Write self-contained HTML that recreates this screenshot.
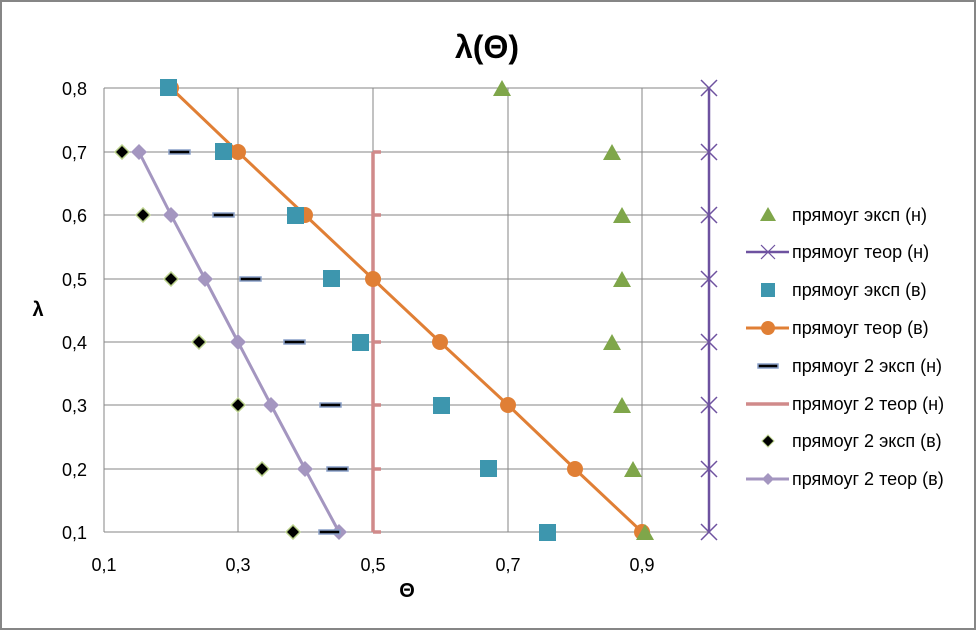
<!DOCTYPE html>
<html><head><meta charset="utf-8"><style>
html,body{margin:0;padding:0;background:#fff}
svg{display:block}
text{font-family:"Liberation Sans","DejaVu Sans",sans-serif}
</style></head><body>
<svg width="976" height="630" viewBox="0 0 976 630" xmlns="http://www.w3.org/2000/svg">
<rect x="1" y="1" width="974" height="628" fill="#fff" stroke="#868686" stroke-width="2"/>
<text x="487" y="58" font-size="32" font-weight="bold" text-anchor="middle">λ(Θ)</text>
<g stroke="#868686" stroke-width="1">
<line x1="104" y1="88" x2="709" y2="88"/><line x1="104" y1="152" x2="709" y2="152"/>
<line x1="104" y1="215" x2="709" y2="215"/><line x1="104" y1="279" x2="709" y2="279"/>
<line x1="104" y1="342" x2="709" y2="342"/><line x1="104" y1="405" x2="709" y2="405"/>
<line x1="104" y1="469" x2="709" y2="469"/><line x1="104" y1="532" x2="709" y2="532"/>
<line x1="104" y1="88" x2="104" y2="532"/><line x1="238" y1="88" x2="238" y2="532"/>
<line x1="373" y1="88" x2="373" y2="532"/><line x1="508" y1="88" x2="508" y2="532"/>
<line x1="642" y1="88" x2="642" y2="532"/>
</g>
<g font-size="18" text-anchor="end">
<text x="87" y="95">0,8</text><text x="87" y="159">0,7</text><text x="87" y="222">0,6</text>
<text x="87" y="286">0,5</text><text x="87" y="349">0,4</text><text x="87" y="412">0,3</text>
<text x="87" y="476">0,2</text><text x="87" y="539">0,1</text>
</g>
<g font-size="18" text-anchor="middle">
<text x="104" y="571">0,1</text><text x="238" y="571">0,3</text><text x="373" y="571">0,5</text>
<text x="508" y="571">0,7</text><text x="642" y="571">0,9</text>
</g>
<text x="407" y="597" font-size="20" font-weight="bold" text-anchor="middle">Θ</text>
<text x="38" y="316" font-size="20" font-weight="bold" text-anchor="middle">λ</text>

<g stroke="#d08a8a" stroke-width="3.5">
<line x1="373" y1="152" x2="373" y2="532"/>
<line x1="373" y1="152" x2="381" y2="152"/><line x1="373" y1="215" x2="381" y2="215"/>
<line x1="373" y1="279" x2="381" y2="279"/><line x1="373" y1="342" x2="381" y2="342"/>
<line x1="373" y1="405" x2="381" y2="405"/><line x1="373" y1="469" x2="381" y2="469"/>
<line x1="373" y1="532" x2="381" y2="532"/>
</g>
<g stroke="#6e52a0" stroke-width="2.5">
<line x1="709" y1="88" x2="709" y2="532"/>
</g>
<g stroke="#6e52a0" stroke-width="1.5">
<path d="M701 80l16 16M717 80l-16 16M701 144l16 16M717 144l-16 16M701 207l16 16M717 207l-16 16M701 271l16 16M717 271l-16 16M701 334l16 16M717 334l-16 16M701 397l16 16M717 397l-16 16M701 461l16 16M717 461l-16 16M701 524l16 16M717 524l-16 16"/>
</g>
<polyline fill="none" stroke="#e07f35" stroke-width="3" points="171,88 238,152 305,215 373,279 440,342 508,405 575,469 642,532"/>
<g fill="#e07f35">
<circle cx="171" cy="88" r="8"/><circle cx="238" cy="152" r="8"/><circle cx="305" cy="215" r="8"/>
<circle cx="373" cy="279" r="8"/><circle cx="440" cy="342" r="8"/><circle cx="508" cy="405" r="8"/>
<circle cx="575" cy="469" r="8"/><circle cx="642" cy="532" r="8"/>
</g>
<polyline fill="none" stroke="#a496c0" stroke-width="3" points="139,152 171,215 205,279 238,342 271,405 305,469 339,532"/>
<g fill="#a496c0">
<path d="M139 144l8 8-8 8-8-8zM171 207l8 8-8 8-8-8zM205 271l8 8-8 8-8-8zM238 334l8 8-8 8-8-8zM271 397l8 8-8 8-8-8zM305 461l8 8-8 8-8-8zM339 524l8 8-8 8-8-8z"/>
</g>
<g fill="#3d96ae">
<rect x="160" y="79" width="17" height="17"/><rect x="215" y="143" width="17" height="17"/>
<rect x="287" y="207" width="17" height="17"/><rect x="323" y="270" width="17" height="17"/>
<rect x="352" y="334" width="17" height="17"/><rect x="433" y="397" width="17" height="17"/>
<rect x="480" y="460" width="17" height="17"/><rect x="539" y="524" width="17" height="17"/>
</g>
<g fill="#000" stroke="#8aa0c8" stroke-width="1.5">
<rect x="169" y="150" width="21" height="4"/><rect x="213" y="213" width="21" height="4"/>
<rect x="240" y="277" width="21" height="4"/><rect x="284" y="340" width="21" height="4"/>
<rect x="320" y="403" width="21" height="4"/><rect x="327" y="467" width="21" height="4"/>
<rect x="319" y="530" width="21" height="4"/>
</g>
<g fill="#000" stroke="#b9d08a" stroke-width="1.5">
<path d="M122 145l7 7-7 7-7-7zM143 208l7 7-7 7-7-7zM171 272l7 7-7 7-7-7zM199 335l7 7-7 7-7-7zM238 398l7 7-7 7-7-7zM262 462l7 7-7 7-7-7zM293 525l7 7-7 7-7-7z"/>
</g>
<g fill="#7fa64a">
<path d="M502 80l9 16h-18zM612 144l9 16h-18zM622 207l9 16h-18zM622 271l9 16h-18zM612 334l9 16h-18zM622 397l9 16h-18zM633 461l9 16h-18zM645 524l9 16h-18z"/>
</g>
<g font-size="18">
<path d="M768 207l8 14h-16z" fill="#7fa64a"/>
<text x="792" y="221">прямоуг эксп (н)</text>
<line x1="746" y1="252" x2="789" y2="252" stroke="#6e52a0" stroke-width="2.5"/>
<path d="M761 245l14 14M775 245l-14 14" stroke="#6e52a0" stroke-width="1.2"/>
<text x="792" y="258">прямоуг теор (н)</text>
<rect x="761" y="283" width="14" height="14" fill="#3d96ae"/>
<text x="792" y="296">прямоуг эксп (в)</text>
<line x1="746" y1="328" x2="789" y2="328" stroke="#e07f35" stroke-width="3"/>
<circle cx="768" cy="328" r="7" fill="#e07f35"/>
<text x="792" y="334">прямоуг теор (в)</text>
<rect x="758" y="364" width="20" height="4" fill="#000" stroke="#8aa0c8" stroke-width="1.5"/>
<text x="792" y="372">прямоуг 2 эксп (н)</text>
<line x1="746" y1="404" x2="789" y2="404" stroke="#d08a8a" stroke-width="3.5"/>
<text x="792" y="410">прямоуг 2 теор (н)</text>
<path d="M768 435l6 6-6 6-6-6z" fill="#000" stroke="#b9d08a"/>
<text x="792" y="447">прямоуг 2 эксп (в)</text>
<line x1="746" y1="479" x2="789" y2="479" stroke="#a496c0" stroke-width="3"/>
<path d="M768 473l6 6-6 6-6-6z" fill="#a496c0"/>
<text x="792" y="485">прямоуг 2 теор (в)</text>
</g>
</svg>
</body></html>
